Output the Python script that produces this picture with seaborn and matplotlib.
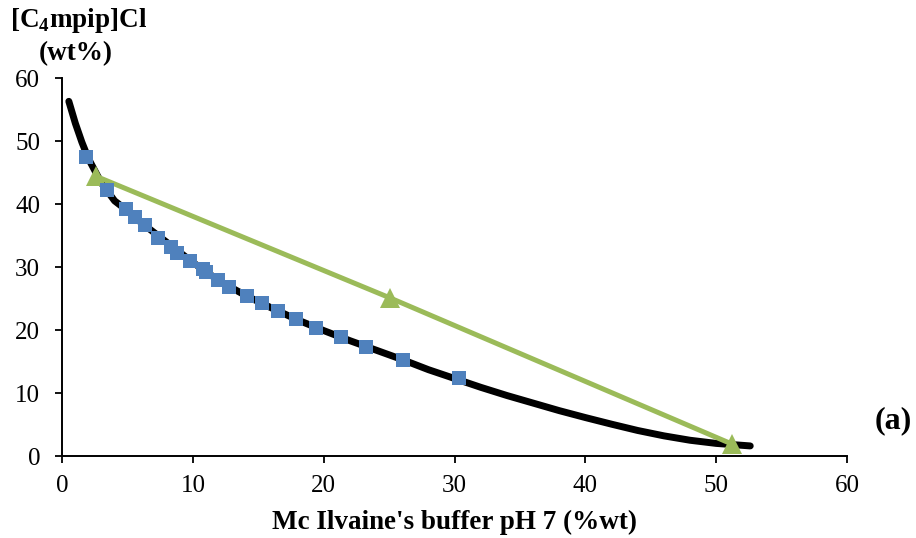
import matplotlib
matplotlib.use("Agg")
import matplotlib.pyplot as plt
import seaborn as sns
import pandas as pd

# Binodal fitted curve
curve_x = [0.5, 1.0, 1.5, 2.0, 3.0, 4.0, 5.0, 6.0, 8.0, 10.0, 12.0, 14.0, 16.0, 18.0,
           20.0, 22.0, 24.0, 26.0, 28.0, 30.0, 32.0, 34.0, 36.0, 38.0, 40.0, 42.0,
           44.0, 46.0, 48.0, 50.0, 52.6]
curve_y = [56.3, 52.8, 49.8, 47.2, 43.3, 40.5, 38.9, 37.1, 33.9, 30.7, 27.8, 25.5,
           23.5, 21.6, 19.9, 18.3, 16.8, 15.3, 13.7, 12.3, 10.9, 9.6, 8.4, 7.2, 6.1,
           5.05, 4.05, 3.2, 2.5, 2.0, 1.6]

# Experimental binodal points
exp_x = [1.81, 3.42, 4.87, 5.56, 6.32, 7.31, 8.31, 8.77, 9.76, 10.76, 10.99, 11.9,
         12.75, 14.1, 15.3, 16.5, 17.9, 19.4, 21.3, 23.2, 26.05, 30.3]
exp_y = [47.46, 42.2, 39.2, 37.9, 36.7, 34.6, 33.2, 32.2, 31.0, 29.7, 29.2, 27.9,
         26.8, 25.4, 24.3, 23.0, 21.7, 20.3, 18.9, 17.3, 15.2, 12.4]

# Tie-line
tie_x = [2.58, 25.05, 51.2]
tie_y = [44.4, 25.1, 1.9]

ticks = [0, 10, 20, 30, 40, 50, 60]

sns.set_theme(style="ticks")
plt.rcParams["font.family"] = ["Liberation Serif", "DejaVu Serif"]
plt.rcParams["mathtext.fontset"] = "custom"
plt.rcParams["mathtext.rm"] = "Liberation Serif"
plt.rcParams["mathtext.bf"] = "Liberation Serif:bold"

fig = plt.figure(figsize=(9.16, 5.38), dpi=100)
ax = fig.add_axes([0.068, 0.1524, 0.8567, 0.7026])

df_curve = pd.DataFrame({"x": curve_x, "y": curve_y})
df_exp = pd.DataFrame({"x": exp_x, "y": exp_y})
df_tie = pd.DataFrame({"x": tie_x, "y": tie_y})

sns.lineplot(data=df_curve, x="x", y="y", ax=ax, color="black", linewidth=5.0,
             sort=False, solid_capstyle="round", zorder=2)
sns.lineplot(data=df_tie, x="x", y="y", ax=ax, color="#9BBB59", linewidth=3.6,
             marker="^", markersize=14, markeredgewidth=0, sort=False, zorder=3)
sns.scatterplot(data=df_exp, x="x", y="y", ax=ax, color="#4F81BD", marker="s",
                s=110, linewidth=0, zorder=4)

ax.set_xlim(0, 60)
ax.set_ylim(0, 60)
ax.set_xticks(ticks)
ax.set_yticks(ticks)
ax.set_xticklabels([str(t) for t in ticks])
ax.set_yticklabels([str(t) for t in ticks])
ax.tick_params(axis="both", labelsize=18, length=5, width=1.3, color="black",
               labelcolor="black", direction="out")
ax.tick_params(axis="x", pad=9)
ax.tick_params(axis="y", pad=11)
for s in ["top", "right"]:
    ax.spines[s].set_visible(False)
for s in ["left", "bottom"]:
    ax.spines[s].set_color("black")
    ax.spines[s].set_linewidth(1.4)

ax.set_xlabel("Mc Ilvaine's buffer pH 7 (%wt)", fontsize=19.5, fontweight="bold",
              labelpad=9, color="black")
ax.set_ylabel("")

fig.text(0.011, 0.962, r"[C$_\mathbf{4}$mpip]Cl", fontsize=19.5, fontweight="bold",
         ha="left", va="center", color="black")
fig.text(0.083, 0.9, "(wt%)", fontsize=19.5, fontweight="bold", ha="center",
         va="center", color="black")
fig.text(0.975, 0.2175, "(a)", fontsize=23, fontweight="bold", ha="center",
         va="center", color="black")

fig.savefig("out.png", dpi=100)
